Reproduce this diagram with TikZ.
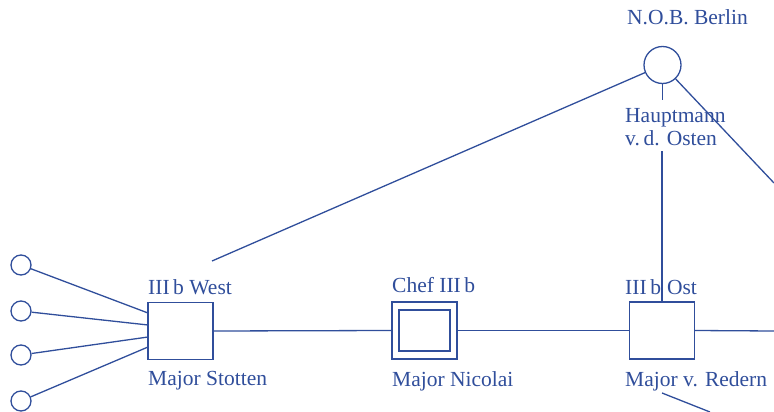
\documentclass[tikz,border=0pt]{standalone}
\usepackage{fontspec}
\setmainfont{Liberation Serif}
\definecolor{ink}{RGB}{48,78,155}
\begin{document}
\begin{tikzpicture}[x=1pt,y=-1pt,
  every node/.style={text=ink,font=\fontsize{21.5}{23}\selectfont},
  ln/.style={draw=ink,line width=1.3pt},
  office/.style={ln,minimum width=65pt,minimum height=57pt,inner sep=0pt},
  smallc/.style={ln,circle,minimum size=20pt,inner sep=0pt},
  bigc/.style={ln,circle,minimum size=37pt,inner sep=0pt},
  lbl/.style={anchor=west,inner sep=0pt}]
\useasboundingbox (0,0) rectangle (774,412);
% nodes
\node[bigc] (nob) at (662.5,65) {};
\node[lbl] (nobl) at (627,17) {N.O.B. Berlin};
\node[office] (west) at (180.5,331) {};
\node[office] (chef) at (424.5,330.5) {};
\node[ln,minimum width=51pt,minimum height=41pt,inner sep=0pt] (chefin) at (424.5,330.5) {};
\node[office] (ost) at (662,330.5) {};
\node[smallc] (c1) at (21,265) {};
\node[smallc] (c2) at (21,311) {};
\node[smallc] (c3) at (21,355) {};
\node[smallc] (c4) at (21,401) {};
\node[lbl,align=left,inner sep=0pt] (hpt) at (625,127) {Hauptmann\\v.\,d. Osten};
\coordinate (hgap1) at (662.5,100);
\coordinate (hgap2) at (662,151);
\coordinate (wl1) at (148,313);
\coordinate (wl2) at (148,325);
\coordinate (wl3) at (148,337);
\coordinate (wl4) at (148,347);
\coordinate (westtop) at (212,261);
\coordinate (rightend) at (774,331);
\coordinate (diagend) at (774,183);
\coordinate (redtop) at (662,393);
\coordinate (redend) at (710,412);
% connectors
\draw[ln] (nob) -- (hgap1);
\draw[ln] (hgap2) -- (ost.north);
\draw[ln] (nob) -- (westtop);
\draw[ln] (nob) -- (diagend);
\draw[ln] (c1) -- (wl1);
\draw[ln] (c2) -- (wl2);
\draw[ln] (c3) -- (wl3);
\draw[ln] (c4) -- (wl4);
\draw[ln] (west.east) -- (chef.west);
\draw[ln] (chef.east) -- (ost.west);
\draw[ln] (ost.east) -- (rightend);
\draw[ln] (redtop) -- (redend);
% labels
\node[lbl] (westl) at (148,287) {III\,b West};
\node[lbl] (westm) at (148,381) {Major Stotten};
\node[lbl] (chefl) at (392,285) {Chef III\,b};
\node[lbl] (chefm) at (392,381) {Major Nicolai};
\node[lbl] (ostl) at (625,287) {III\,b\hspace{6pt}Ost};
\node[lbl] (ostm) at (625,381) {Major v. Redern};
\end{tikzpicture}
\end{document}
